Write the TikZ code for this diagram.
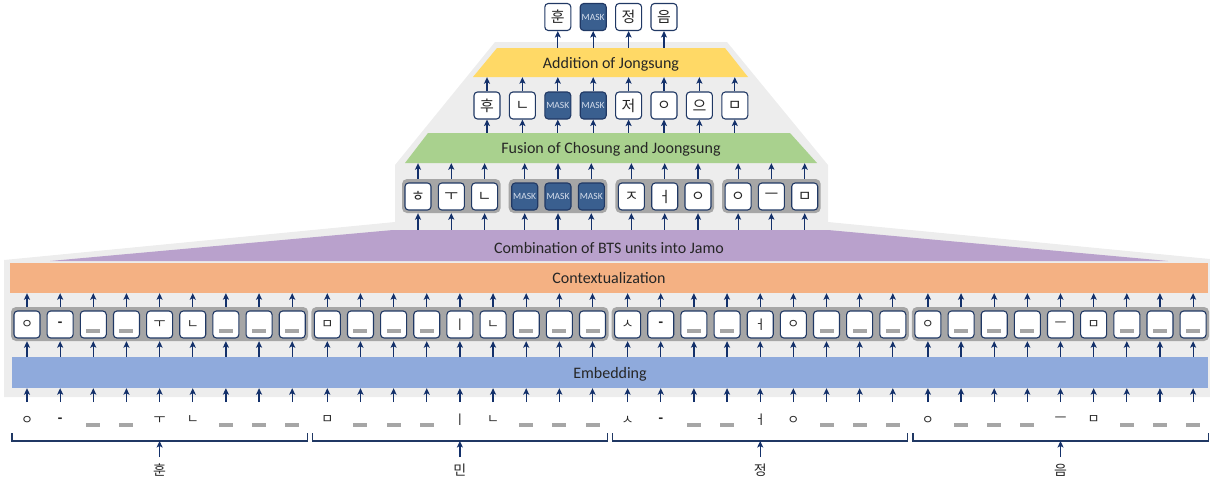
\documentclass[tikz,border=0pt]{standalone}
\usepackage{fontspec}
\setmainfont{Carlito}
\newfontfamily\kr{Noto Sans CJK KR}
\usetikzlibrary{arrows.meta}
\definecolor{bgg}{HTML}{EDEDED}
\definecolor{yelc}{HTML}{FFD966}
\definecolor{grnc}{HTML}{A9D18E}
\definecolor{purc}{HTML}{B9A1CC}
\definecolor{orac}{HTML}{F4B183}
\definecolor{bluc}{HTML}{8FAADC}
\definecolor{boxc}{HTML}{203864}
\definecolor{maskc}{HTML}{3A5F8F}
\definecolor{masktx}{HTML}{D6DEEC}
\definecolor{grpc}{HTML}{A6A6A6}
\definecolor{barg}{HTML}{A6A6A6}
\definecolor{arrc}{HTML}{13306A}
\definecolor{txtc}{HTML}{262626}
\tikzset{
  tok/.style={draw=boxc, fill=white, line width=1.1pt, rounded corners=3.5pt,
    minimum width=26pt, minimum height=27pt, inner sep=0pt, text=txtc,
    font=\kr\fontsize{15}{15}\selectfont},
  smalltok/.style={tok, font=\kr\fontsize{13}{13}\selectfont},
  masktok/.style={tok, fill=maskc, draw=boxc, text=masktx,
    font=\fontsize{9.5}{9.5}\selectfont},
  grp/.style={fill=grpc, rounded corners=5pt, inner sep=0pt},
  up/.style={-{Stealth[length=6.5pt,width=6pt,inset=1.5pt]}, line width=1.2pt, draw=arrc},
  brk/.style={line width=1.2pt, draw=boxc},
  lbl/.style={inner sep=0pt, text=txtc, text height=11pt, text depth=0pt,
    font=\fontsize{16}{16}\selectfont},
  jam/.style={inner sep=0pt, text=txtc, font=\kr\fontsize{13}{13}\selectfont},
  barn/.style={fill=barg, inner sep=0pt, minimum width=14pt, minimum height=4pt},
  wlbl/.style={inner sep=0pt, text=txtc, font=\kr\fontsize{14}{14}\selectfont},
}
\def\jB{B}
\def\jM{M}
\def\jD{-}
\newcommand\jtxt[1]{\edef\jcur{#1}\ifx\jcur\jD\textbf{-}\else#1\fi}
\begin{document}
\begin{tikzpicture}[x=1pt,y=-1pt]
\useasboundingbox (0,0) rectangle (1210,482);
% background
\fill[bgg] (495,42) -- (727,42) -- (828,165) -- (828,222) -- (1210,259) -- (1210,397)
  -- (4,397) -- (4,260) -- (395,222) -- (395,165) -- cycle;
% trapezoids
\fill[yelc] (497,48) -- (725,48) -- (748,77) -- (473,77) -- cycle;
\node[lbl, minimum width=228pt, minimum height=29pt] (yl) at (611,62.5) {Addition of Jongsung};
\fill[grnc] (428,133) -- (790,133) -- (817,163) -- (405,163) -- cycle;
\node[lbl, minimum width=362pt, minimum height=30pt] (gl) at (611,148) {Fusion of Chosung and Joongsung};
\fill[purc] (393,230) -- (828,230) -- (1168,261) -- (50,261) -- cycle;
\node[lbl, minimum width=435pt, minimum height=31pt] (pl) at (609,245.5) {};
\node[lbl] at (609,247.5) {Combination of BTS units into Jamo};
\node[lbl, fill=orac, minimum width=1198pt, minimum height=30pt] (ctx) at (609,278) {Contextualization};
\node[lbl, fill=bluc, minimum width=1196pt, minimum height=31pt] (emb) at (610,372.5) {Embedding};

% output row
\foreach \c [count=\i from 0] in {훈,M,정,음}{
  \pgfmathsetmacro\x{557.8+35.4*\i}
  \edef\cc{\c}
  \ifx\cc\jM
    \node[masktok] (o\i) at (\x,17) {MASK};
  \else
    \node[tok] (o\i) at (\x,17) {\c};
  \fi
  \draw[up] (o\i |- yl.north) -- (o\i.south);
}
% jamo row (8)
\foreach \c [count=\i from 0] in {후,ㄴ,M,M,저,ㅇ,으,ㅁ}{
  \pgfmathsetmacro\x{487+35.4*\i}
  \edef\cc{\c}
  \ifx\cc\jM
    \node[masktok] (r\i) at (\x,105.5) {MASK};
  \else
    \node[tok] (r\i) at (\x,105.5) {\c};
  \fi
  \draw[up] (r\i.north) -- (r\i |- yl.south);
  \draw[up] (r\i |- gl.north) -- (r\i.south);
}
% middle row (4 groups of 3)
\foreach \g in {0,...,3}{
  \ifcase\g \def\lst{ㅎ,ㅜ,ㄴ}\or \def\lst{M,M,M}\or \def\lst{ㅈ,ㅓ,ㅇ}\or \def\lst{ㅇ,ㅡ,ㅁ}\fi
  \pgfmathsetmacro\gx{418+106.7*\g}
  \node[grp, minimum width=98.6pt, minimum height=34pt] (mg\g) at (\gx+33.3,196) {};
  \foreach \c [count=\i from 0] in \lst {
    \pgfmathsetmacro\x{\gx+33.3*\i}
    \edef\cc{\c}
    \ifx\cc\jM
      \node[masktok] (m\g-\i) at (\x,196.5) {MASK};
    \else
      \node[tok] (m\g-\i) at (\x,196.5) {\c};
    \fi
    \draw[up] (m\g-\i |- mg\g.north) -- (m\g-\i |- gl.south);
    \draw[up] (m\g-\i |- pl.north) -- (m\g-\i |- mg\g.south);
  }
}
% bottom row (4 groups of 9)
\foreach \g in {0,...,3}{
  \ifcase\g \def\lst{ㅇ,-,B,B,ㅜ,ㄴ,B,B,B}\or \def\lst{ㅁ,B,B,B,ㅣ,ㄴ,B,B,B}\or
    \def\lst{ㅅ,-,B,B,ㅓ,ㅇ,B,B,B}\or \def\lst{ㅇ,B,B,B,ㅡ,ㅁ,B,B,B}\fi
  \pgfmathsetmacro\gx{27+300.3*\g}
  \node[grp, minimum width=297.2pt, minimum height=34pt] (gb\g) at (\gx+132.6,324) {};
  \foreach \c [count=\i from 0] in \lst {
    \pgfmathsetmacro\x{\gx+33.15*\i}
    \edef\cc{\c}
    \ifx\cc\jB
      \node[smalltok] (b\g-\i) at (\x,324.5) {};
      \node[barn] (bb\g-\i) at (\x,330.5) {};
      \node[barn] (t\g-\i) at (\x,425) {};
    \else
      \node[smalltok] (b\g-\i) at (\x,324.5) {\jtxt{\c}};
      \node[jam] (t\g-\i) at (\x,420) {\jtxt{\c}};
    \fi
    \coordinate (s\g-\i) at (\x,402);
    \draw[up] (b\g-\i |- gb\g.north) -- (b\g-\i |- ctx.south);
    \draw[up] (b\g-\i |- emb.north) -- (b\g-\i |- gb\g.south);
    \draw[up] (s\g-\i) -- (b\g-\i |- emb.south);
  }
  % bracket
  \coordinate (kl\g) at (\gx-15,433);
  \coordinate (kr\g) at (\gx+265.2+15,433);
  \coordinate (k\g) at (\gx+132.6,441);
  \coordinate (a\g) at (\gx+132.6,457);
  \draw[brk] (kl\g) -- (kl\g |- k\g) -- (kr\g |- k\g) -- (kr\g);
  \draw[up] (a\g) -- (k\g);
  \ifcase\g \def\w{훈}\or \def\w{민}\or \def\w{정}\or \def\w{음}\fi
  \node[wlbl] (w\g) at (\gx+132.6,470) {\w};
}
\end{tikzpicture}
\end{document}
